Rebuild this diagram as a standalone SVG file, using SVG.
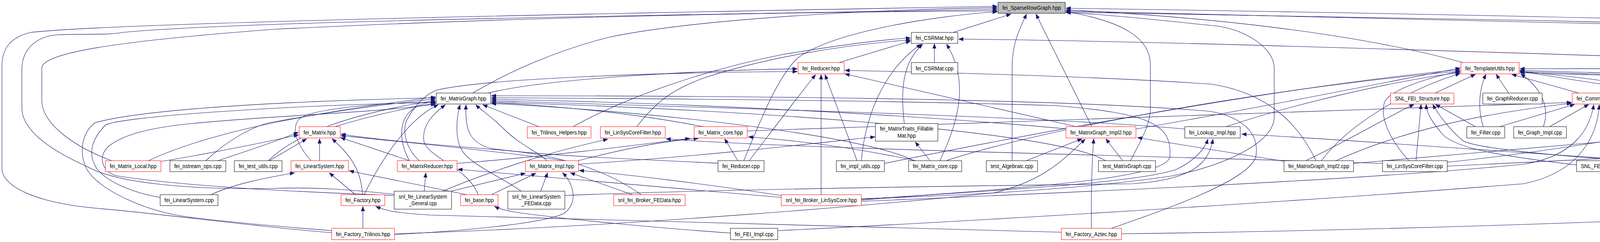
<svg xmlns="http://www.w3.org/2000/svg" width="5543" height="619" viewBox="0 0 5543 619">
<style>
.e{fill:none;stroke:#191970;stroke-width:1.1;marker-end:url(#a)}
.k{fill:#fff;stroke:#000;stroke-width:1}
.r{fill:#fff;stroke:#f00;stroke-width:1}
.g{fill:#bfbfbf;stroke:#000;stroke-width:1}
text{font-family:"Liberation Sans",Arial,sans-serif;font-size:14.5px;text-anchor:middle;fill:#000}
</style>
<defs>
<marker id="a" markerUnits="userSpaceOnUse" markerWidth="13" markerHeight="10" refX="12" refY="5" orient="auto"><path d="M0,0 L13,5 L0,10 z" fill="#191970"/></marker>
</defs>
<rect width="5543" height="619" fill="#fff"/>
<g id="edges">
<path class="e" d="M2440,83 L2588,36"/>
<path class="e" d="M2591,411 L2591,170 C2591,110 2612,70 2628,36"/>
<path class="e" d="M2795,324 L2652,36"/>
<path class="e" d="M1210,238 C1300,185 1420,130 1560,95 C1800,45 2300,22 2553,20"/>
<path class="e" d="M1904,411 C1950,300 1990,200 2040,150 C2130,80 2400,40 2553,30"/>
<path class="e" d="M2894,411 C2920,360 2945,320 2945,276 L2945,166 C2945,100 2880,55 2729,30"/>
<path class="e" d="M3745,160 C3600,120 3300,55 2729,25"/>
<path class="e" d="M5326,84 C4900,64 4000,40 2729,21"/>
<path class="e" d="M2871,598 C3500,590 4300,565 4843,533 C5000,525 5160,560 5250,510 C5285,485 5289,445 5289,400 L5289,170 C5289,105 5240,75 5155,73 C5050,72 4980,85 4843,75 C4200,55 3200,38 2729,31"/>
<path class="e" d="M4800,503 C4900,490 5100,460 5190,410 C5230,385 5238,355 5238,330 L5238,180 C5238,150 5200,140 5155,138 C5000,120 4700,80 4200,63 C3700,48 3200,38 2729,28"/>
<path class="e" d="M2205,508 C2500,500 2800,480 3000,450 C3150,420 3262,360 3262,300 L3262,174 C3262,120 3180,70 3100,65 C3000,55 2850,38 2729,32"/>
<path class="e" d="M849,595 C700,585 400,545 250,533 C100,520 5,480 5,430 L5,170 C5,120 30,95 78,83 C300,58 1500,35 2553,16"/>
<path class="e" d="M1009,497 C900,485 800,478 700,482 C500,486 300,470 223,426 C120,380 56,330 56,276 L56,178 C56,120 100,92 147,89 C220,86 280,90 312,83 C600,55 1600,40 2553,24"/>
<path class="e" d="M286,411 C200,380 107,320 107,257 L107,174 C107,135 300,105 700,75 C1300,45 2000,30 2553,28"/>
<path class="e" d="M2392,160 L2392,112"/>
<path class="e" d="M2148,160 L2331,105"/>
<path class="e" d="M2205,411 C2215,300 2260,180 2358,113"/>
<path class="e" d="M2315,316 C2305,230 2310,160 2362,113"/>
<path class="e" d="M2406,411 C2460,300 2478,200 2423,113"/>
<path class="e" d="M1467,324 C1600,250 1800,180 2000,140 C2150,115 2250,102 2331,97"/>
<path class="e" d="M1630,324 C1680,260 1720,230 1800,200 C1950,150 2150,115 2331,102"/>
<path class="e" d="M3705,425 C3900,418 4500,385 4843,369 C5000,355 5146,300 5146,264 C5146,210 5050,150 4955,151 C4800,155 4700,162 4500,155 C4000,140 3000,105 2454,100"/>
<path class="e" d="M1250,238 C1400,200 1800,180 2041,176"/>
<path class="e" d="M1073,411 C1040,380 1030,340 1040,310 C1060,270 1090,240 1120,230 C1250,200 1700,185 2041,183"/>
<path class="e" d="M1918,411 C1980,330 2040,250 2088,191"/>
<path class="e" d="M2194,411 L2112,191"/>
<path class="e" d="M2102,498 L2102,191"/>
<path class="e" d="M2756,324 L2163,189"/>
<path class="e" d="M3369,411 C3330,330 3260,240 3100,215 C2800,195 2400,185 2163,180"/>
<path class="e" d="M858,324 C950,295 1050,275 1115,264"/>
<path class="e" d="M1048,411 C1025,370 1020,320 1045,290 C1065,268 1090,262 1115,260"/>
<path class="e" d="M932,498 C980,400 1050,300 1122,268"/>
<path class="e" d="M1224,498 C1200,430 1090,400 1085,360 C1080,320 1110,290 1140,268"/>
<path class="e" d="M1334,489 C1280,450 1200,420 1180,380 C1165,350 1168,300 1178,268"/>
<path class="e" d="M1846,418 C1700,410 1400,400 1258,380 C1200,365 1190,330 1193,268"/>
<path class="e" d="M1380,324 L1236,268"/>
<path class="e" d="M3033,330 C2700,300 2000,280 1258,258"/>
<path class="e" d="M1800,324 C1600,285 1400,270 1258,262"/>
<path class="e" d="M2735,330 C2300,290 1700,262 1258,254"/>
<path class="e" d="M2205,512 C2600,480 2990,460 2995,400 C3000,320 2950,290 2700,270 C2200,255 1600,252 1258,250"/>
<path class="e" d="M2845,584 C3000,530 3200,460 3215,400 C3225,340 3180,300 3100,285 C2700,250 1800,245 1258,245"/>
<path class="e" d="M849,590 C700,578 500,560 446,549 C350,530 250,480 223,434 C200,390 210,340 243,314 C400,270 900,255 1115,250"/>
<path class="e" d="M410,505 C350,495 280,470 250,434 C225,400 230,360 270,320 C300,300 700,270 1115,262"/>
<path class="e" d="M1009,500 C800,492 500,480 300,450 C260,440 250,400 277,375 C320,340 400,325 491,316 C700,295 950,290 1115,266"/>
<path class="e" d="M687,411 C760,340 900,290 1115,257"/>
<path class="e" d="M527,411 C580,360 650,320 700,312 C850,285 1000,265 1115,253"/>
<path class="e" d="M380,411 C500,355 700,300 1115,248"/>
<path class="e" d="M796,411 C760,370 745,330 765,305 C800,275 1000,262 1115,262"/>
<path class="e" d="M1400,411 C1380,390 1330,370 1290,330 C1260,300 1230,280 1218,268"/>
<path class="e" d="M2830,411 C2700,330 1800,275 1258,262"/>
<path class="e" d="M2340,411 C2200,340 1600,280 1258,265"/>
<path class="e" d="M818,411 L818,355"/>
<path class="e" d="M928,498 C925,430 890,390 850,355"/>
<path class="e" d="M1048,411 L872,352"/>
<path class="e" d="M690,411 L785,355"/>
<path class="e" d="M413,413 C550,390 650,370 764,345"/>
<path class="e" d="M558,411 C620,390 700,365 764,338"/>
<path class="e" d="M1445,411 C1300,390 1100,370 873,347"/>
<path class="e" d="M1641,498 C1560,440 1450,400 1300,385 C1100,370 950,355 873,343"/>
<path class="e" d="M910,498 L843,442"/>
<path class="e" d="M540,498 C600,470 680,455 754,442"/>
<path class="e" d="M1195,498 L894,437"/>
<path class="e" d="M1086,489 L1090,442"/>
<path class="e" d="M2000,505 C1700,480 1400,455 1172,433"/>
<path class="e" d="M1155,489 L1345,443"/>
<path class="e" d="M1258,498 L1372,443"/>
<path class="e" d="M1384,489 L1402,442"/>
<path class="e" d="M1619,498 L1460,442"/>
<path class="e" d="M2000,500 C1800,470 1600,445 1483,436"/>
<path class="e" d="M1010,600 C1200,590 1400,570 1445,545 C1480,520 1470,470 1440,442"/>
<path class="e" d="M1133,489 C1250,440 1400,390 1556,356"/>
<path class="e" d="M3539,418 C3000,400 2000,380 1705,355"/>
<path class="e" d="M1480,411 C1600,380 1700,360 1788,354"/>
<path class="e" d="M1889,411 L1855,355"/>
<path class="e" d="M2345,411 C2200,380 2050,360 1916,350"/>
<path class="e" d="M1170,418 C1400,400 1600,375 1766,354"/>
<path class="e" d="M1481,420 C1800,400 2100,365 2240,350"/>
<path class="e" d="M2381,411 L2343,363"/>
<path class="e" d="M1913,335 C2500,310 3500,285 4023,262"/>
<path class="e" d="M3839,324 L4031,267"/>
<path class="e" d="M3967,324 L4067,267"/>
<path class="e" d="M3420,411 C3600,330 3800,290 4023,264"/>
<path class="e" d="M4118,411 C4118,350 4110,300 4102,268"/>
<path class="e" d="M2205,515 C2800,490 3500,460 3900,420 C4030,400 4070,330 4080,268"/>
<path class="e" d="M1991,590 C2600,560 3400,510 3900,470 C4050,440 4090,340 4094,268"/>
<path class="e" d="M4233,324 L4125,268"/>
<path class="e" d="M4307,411 C4360,380 4350,330 4300,300 C4250,275 4200,265 4163,262"/>
<path class="e" d="M4450,411 C4400,330 4300,280 4163,265"/>
<path class="e" d="M4602,411 C4450,330 4300,280 4163,259"/>
<path class="e" d="M4583,324 C4450,290 4300,270 4163,256"/>
<path class="e" d="M4742,498 C4730,440 4680,400 4600,385 C4400,340 4250,280 4163,262"/>
<path class="e" d="M2422,411 C2700,320 3300,220 3738,182"/>
<path class="e" d="M2264,418 C2700,330 3300,220 3738,178"/>
<path class="e" d="M3139,324 C3300,270 3550,210 3738,185"/>
<path class="e" d="M3674,238 L3777,190"/>
<path class="e" d="M3797,324 C3780,270 3790,220 3804,190"/>
<path class="e" d="M3862,238 L3830,190"/>
<path class="e" d="M3951,324 C3970,270 3940,220 3893,189"/>
<path class="e" d="M4042,238 L3870,190"/>
<path class="e" d="M3607,411 C3560,360 3530,300 3545,260 C3560,230 3650,200 3738,182"/>
<path class="e" d="M3383,411 C3450,320 3600,230 3738,188"/>
<path class="e" d="M2908,330 C3200,280 3500,220 3738,174"/>
<path class="e" d="M4337,332 C4600,310 4843,290 5000,280 C5100,275 5120,266 5118,253 C5115,230 5050,200 4843,185 C4400,175 4100,175 3891,176"/>
<path class="e" d="M4529,411 C4700,400 4780,390 4785,360 C4790,330 4700,290 4600,280 C4300,250 4000,200 3891,182"/>
<path class="e" d="M4704,411 C4800,380 4800,330 4760,300 C4700,250 4500,210 4200,195 C4000,190 3900,186 3891,186"/>
<path class="e" d="M4750,498 C4820,420 4825,360 4800,320 C4750,260 4600,220 4200,190 C4050,184 3950,182 3891,180"/>
<path class="e" d="M4563,324 C4450,250 4100,200 3891,183"/>
<path class="e" d="M4973,240 C4700,220 4300,195 3891,183"/>
<path class="e" d="M3777,324 L3675,267"/>
<path class="e" d="M3625,411 L3638,267"/>
<path class="e" d="M3343,411 C3450,360 3550,300 3620,267"/>
<path class="e" d="M4036,422 C3850,400 3720,380 3690,340 C3665,310 3652,290 3651,267"/>
<path class="e" d="M4221,415 C4000,400 3780,380 3745,360 C3710,330 3680,290 3668,267"/>
<path class="e" d="M3705,415 C3900,395 4050,370 4182,350"/>
<path class="e" d="M3465,418 C3800,390 4000,372 4182,356"/>
<path class="e" d="M4143,411 L4226,355"/>
<path class="e" d="M4285,411 L4267,363"/>
<path class="e" d="M4566,411 L4329,355"/>
<path class="e" d="M2627,411 L2770,355"/>
<path class="e" d="M2874,411 L2831,355"/>
<path class="e" d="M2794,584 C2793,500 2795,420 2800,355"/>
<path class="e" d="M3290,413 L2912,352"/>
<path class="e" d="M1010,598 C1600,580 2300,520 2546,493 C2680,460 2730,400 2778,356"/>
<path class="e" d="M4386,422 C4000,400 3500,360 3179,343"/>
<path class="e" d="M2205,510 C2500,490 2900,470 3010,434 C3060,410 3085,380 3092,356"/>
<path class="e" d="M1446,500 C1800,485 2500,475 2900,470 C3050,460 3095,420 3105,356"/>
<path class="e" d="M929,584 L929,528"/>
<path class="e" d="M2717,594 C2000,570 1400,560 1100,550 C1020,545 990,540 962,528"/>
<path class="e" d="M1870,596 C1700,585 1450,560 1400,553 C1330,545 1290,540 1266,528"/>
</g>
<g id="n-SRG"><rect class="g" x="2555" y="6" width="172" height="28"/><text x="2641" y="25" textLength="150" lengthAdjust="spacingAndGlyphs">fei_SparseRowGraph.hpp</text></g>
<g id="n-CSRh"><rect class="k" x="2333" y="83" width="119" height="28"/><text x="2392.5" y="102" textLength="97" lengthAdjust="spacingAndGlyphs">fei_CSRMat.hpp</text></g>
<g id="n-LPM"><rect class="k" x="5326" y="83" width="212" height="28"/><text x="5432" y="102" textLength="190" lengthAdjust="spacingAndGlyphs">fei_LinProbMgr_EpetraBasic.cpp</text></g>
<g id="n-Redh"><rect class="r" x="2043" y="160" width="118" height="29"/><text x="2102" y="179.5" textLength="96" lengthAdjust="spacingAndGlyphs">fei_Reducer.hpp</text></g>
<g id="n-CSRc"><rect class="k" x="2333" y="160" width="119" height="29"/><text x="2392.5" y="179.5" textLength="97" lengthAdjust="spacingAndGlyphs">fei_CSRMat.cpp</text></g>
<g id="n-TU"><rect class="r" x="3740" y="160" width="149" height="29"/><text x="3814.5" y="179.5" textLength="127" lengthAdjust="spacingAndGlyphs">fei_TemplateUtils.hpp</text></g>
<g id="n-MG"><rect class="k" x="1117" y="238" width="139" height="28"/><text x="1186.5" y="257" textLength="117" lengthAdjust="spacingAndGlyphs">fei_MatrixGraph.hpp</text></g>
<g id="n-SFSh"><rect class="r" x="3560" y="238" width="162" height="28"/><text x="3641" y="257" textLength="140" lengthAdjust="spacingAndGlyphs">SNL_FEI_Structure.hpp</text></g>
<g id="n-GRc"><rect class="k" x="3796" y="238" width="152" height="28"/><text x="3872" y="257" textLength="130" lengthAdjust="spacingAndGlyphs">fei_GraphReducer.cpp</text></g>
<g id="n-CUh"><rect class="r" x="4025" y="238" width="136" height="28"/><text x="4093" y="257" textLength="114" lengthAdjust="spacingAndGlyphs">fei_CommUtils.hpp</text></g>
<g id="n-EBc"><rect class="k" x="4973" y="238" width="128" height="28"/><text x="5037" y="257" textLength="106" lengthAdjust="spacingAndGlyphs">fei_EqnBuffer.cpp</text></g>
<g id="n-Mh"><rect class="r" x="766" y="324" width="105" height="29"/><text x="818.5" y="343.5" textLength="83" lengthAdjust="spacingAndGlyphs">fei_Matrix.hpp</text></g>
<g id="n-TH"><rect class="r" x="1350" y="324" width="163" height="29"/><text x="1431.5" y="343.5" textLength="141" lengthAdjust="spacingAndGlyphs">fei_Trilinos_Helpers.hpp</text></g>
<g id="n-LSCFh"><rect class="r" x="1537" y="324" width="166" height="29"/><text x="1620" y="343.5" textLength="144" lengthAdjust="spacingAndGlyphs">fei_LinSysCoreFilter.hpp</text></g>
<g id="n-MCh"><rect class="r" x="1777" y="324" width="136" height="29"/><text x="1845" y="343.5" textLength="114" lengthAdjust="spacingAndGlyphs">fei_Matrix_core.hpp</text></g>
<g id="n-MTF"><rect class="k" x="2241" y="316" width="160" height="45"/><text x="2321" y="333.5" textLength="137" lengthAdjust="spacingAndGlyphs">fei_MatrixTraits_Fillable</text><text x="2321" y="351.5" textLength="47" lengthAdjust="spacingAndGlyphs">Mat.hpp</text></g>
<g id="n-MGI2h"><rect class="r" x="2729" y="324" width="179" height="29"/><text x="2818.5" y="343.5" textLength="157" lengthAdjust="spacingAndGlyphs">fei_MatrixGraph_Impl2.hpp</text></g>
<g id="n-LIh"><rect class="k" x="3033" y="324" width="142" height="29"/><text x="3104" y="343.5" textLength="120" lengthAdjust="spacingAndGlyphs">fei_Lookup_Impl.hpp</text></g>
<g id="n-Fc"><rect class="k" x="3755" y="324" width="97" height="29"/><text x="3803.5" y="343.5" textLength="75" lengthAdjust="spacingAndGlyphs">fei_Filter.cpp</text></g>
<g id="n-GIc"><rect class="k" x="3875" y="324" width="135" height="29"/><text x="3942.5" y="343.5" textLength="113" lengthAdjust="spacingAndGlyphs">fei_Graph_Impl.cpp</text></g>
<g id="n-ECMh"><rect class="r" x="4185" y="324" width="152" height="29"/><text x="4261" y="343.5" textLength="130" lengthAdjust="spacingAndGlyphs">fei_EqnCommMgr.hpp</text></g>
<g id="n-CUc"><rect class="k" x="4563" y="324" width="135" height="29"/><text x="4630.5" y="343.5" textLength="113" lengthAdjust="spacingAndGlyphs">fei_CommUtils.cpp</text></g>
<g id="n-ML"><rect class="r" x="270" y="411" width="142" height="28"/><text x="341" y="430" textLength="120" lengthAdjust="spacingAndGlyphs">fei_Matrix_Local.hpp</text></g>
<g id="n-OO"><rect class="k" x="435" y="411" width="143" height="28"/><text x="506.5" y="430" textLength="121" lengthAdjust="spacingAndGlyphs">fei_ostream_ops.cpp</text></g>
<g id="n-TUc"><rect class="k" x="600" y="411" width="122" height="28"/><text x="661" y="430" textLength="100" lengthAdjust="spacingAndGlyphs">fei_test_utils.cpp</text></g>
<g id="n-LSh"><rect class="r" x="745" y="411" width="147" height="28"/><text x="818.5" y="430" textLength="125" lengthAdjust="spacingAndGlyphs">fei_LinearSystem.hpp</text></g>
<g id="n-MR"><rect class="r" x="1017" y="411" width="153" height="28"/><text x="1093.5" y="430" textLength="131" lengthAdjust="spacingAndGlyphs">fei_MatrixReducer.hpp</text></g>
<g id="n-MI"><rect class="r" x="1345" y="411" width="136" height="28"/><text x="1413" y="430" textLength="114" lengthAdjust="spacingAndGlyphs">fei_Matrix_Impl.hpp</text></g>
<g id="n-Redc"><rect class="k" x="1838" y="411" width="118" height="28"/><text x="1897" y="430" textLength="96" lengthAdjust="spacingAndGlyphs">fei_Reducer.cpp</text></g>
<g id="n-IU"><rect class="k" x="2141" y="411" width="123" height="28"/><text x="2202.5" y="430" textLength="101" lengthAdjust="spacingAndGlyphs">fei_impl_utils.cpp</text></g>
<g id="n-MCc"><rect class="k" x="2326" y="411" width="136" height="28"/><text x="2394" y="430" textLength="114" lengthAdjust="spacingAndGlyphs">fei_Matrix_core.cpp</text></g>
<g id="n-TA"><rect class="k" x="2525" y="411" width="131" height="28"/><text x="2590.5" y="430" textLength="109" lengthAdjust="spacingAndGlyphs">test_Algebraic.cpp</text></g>
<g id="n-TMG"><rect class="k" x="2812" y="411" width="146" height="28"/><text x="2885" y="430" textLength="124" lengthAdjust="spacingAndGlyphs">test_MatrixGraph.cpp</text></g>
<g id="n-MGI2c"><rect class="k" x="3287" y="411" width="178" height="28"/><text x="3376" y="430" textLength="156" lengthAdjust="spacingAndGlyphs">fei_MatrixGraph_Impl2.cpp</text></g>
<g id="n-LSCFc"><rect class="k" x="3539" y="411" width="166" height="28"/><text x="3622" y="430" textLength="144" lengthAdjust="spacingAndGlyphs">fei_LinSysCoreFilter.cpp</text></g>
<g id="n-SFSc"><rect class="k" x="4036" y="411" width="162" height="28"/><text x="4117" y="430" textLength="140" lengthAdjust="spacingAndGlyphs">SNL_FEI_Structure.cpp</text></g>
<g id="n-FDF"><rect class="k" x="4221" y="411" width="142" height="28"/><text x="4292" y="430" textLength="120" lengthAdjust="spacingAndGlyphs">fei_FEDataFilter.cpp</text></g>
<g id="n-LIc"><rect class="k" x="4386" y="411" width="143" height="28"/><text x="4457.5" y="430" textLength="121" lengthAdjust="spacingAndGlyphs">fei_Lookup_Impl.cpp</text></g>
<g id="n-ECMc"><rect class="k" x="4552" y="411" width="152" height="28"/><text x="4628" y="430" textLength="130" lengthAdjust="spacingAndGlyphs">fei_EqnCommMgr.cpp</text></g>
<g id="n-LSc"><rect class="k" x="410" y="498" width="148" height="28"/><text x="484" y="517" textLength="126" lengthAdjust="spacingAndGlyphs">fei_LinearSystem.cpp</text></g>
<g id="n-Fh"><rect class="r" x="873" y="498" width="112" height="28"/><text x="929" y="517" textLength="90" lengthAdjust="spacingAndGlyphs">fei_Factory.hpp</text></g>
<g id="n-LSG"><rect class="k" x="1009" y="489" width="147" height="46"/><text x="1082.5" y="507.5" textLength="124" lengthAdjust="spacingAndGlyphs">snl_fei_LinearSystem</text><text x="1082.5" y="524.5" textLength="71" lengthAdjust="spacingAndGlyphs">_General.cpp</text></g>
<g id="n-Bh"><rect class="r" x="1179" y="498" width="96" height="28"/><text x="1227" y="517" textLength="74" lengthAdjust="spacingAndGlyphs">fei_base.hpp</text></g>
<g id="n-LSF"><rect class="k" x="1300" y="489" width="146" height="46"/><text x="1373" y="507.5" textLength="124" lengthAdjust="spacingAndGlyphs">snl_fei_LinearSystem</text><text x="1373" y="524.5" textLength="76" lengthAdjust="spacingAndGlyphs">_FEData.cpp</text></g>
<g id="n-BFh"><rect class="r" x="1571" y="498" width="183" height="28"/><text x="1662.5" y="517" textLength="161" lengthAdjust="spacingAndGlyphs">snl_fei_Broker_FEData.hpp</text></g>
<g id="n-BLh"><rect class="r" x="2000" y="498" width="205" height="28"/><text x="2102.5" y="517" textLength="183" lengthAdjust="spacingAndGlyphs">snl_fei_Broker_LinSysCore.hpp</text></g>
<g id="n-SUc"><rect class="k" x="4681" y="498" width="119" height="28"/><text x="4740.5" y="517" textLength="97" lengthAdjust="spacingAndGlyphs">snl_fei_Utils.cpp</text></g>
<g id="n-FT"><rect class="r" x="849" y="584" width="161" height="29"/><text x="929.5" y="603.5" textLength="139" lengthAdjust="spacingAndGlyphs">fei_Factory_Trilinos.hpp</text></g>
<g id="n-FEI"><rect class="k" x="1870" y="584" width="121" height="29"/><text x="1930.5" y="603.5" textLength="99" lengthAdjust="spacingAndGlyphs">fei_FEI_Impl.cpp</text></g>
<g id="n-FA"><rect class="r" x="2717" y="584" width="154" height="29"/><text x="2794" y="603.5" textLength="132" lengthAdjust="spacingAndGlyphs">fei_Factory_Aztec.hpp</text></g>
</svg>
